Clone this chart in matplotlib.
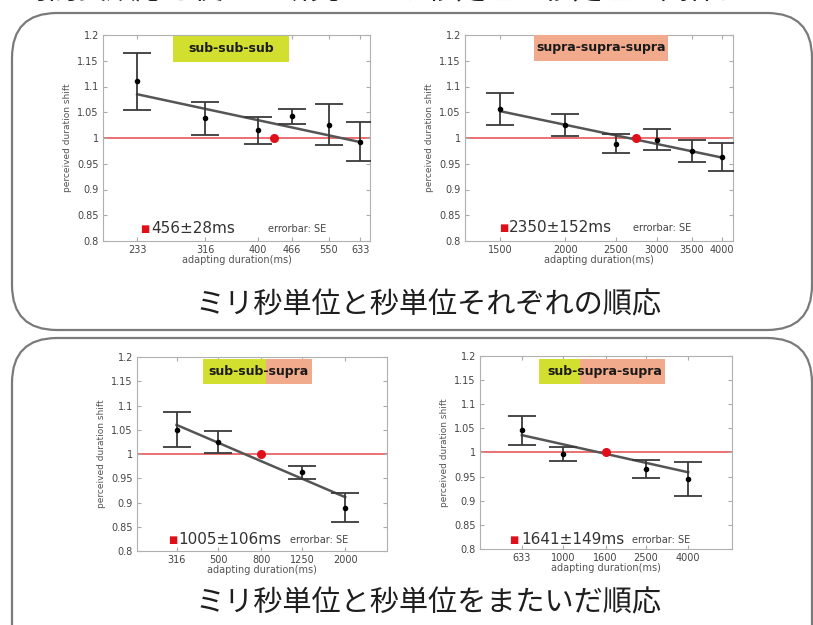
import numpy as np
import matplotlib.pyplot as plt
from matplotlib.patches import FancyBboxPatch, Rectangle

plt.rcParams['font.family'] = ['DejaVu Sans', 'Noto Sans CJK JP']

# ---- data ----
# sub-sub-sub
ss_x = [233, 316, 400, 466, 550, 633]
ss_y = [1.110, 1.038, 1.015, 1.042, 1.026, 0.993]
ss_se = [0.056, 0.032, 0.026, 0.015, 0.040, 0.038]
ss_fit_x = [233, 633]
ss_fit_y = [1.085, 0.992]
ss_pse = 430

# supra-supra-supra
pp_x = [1500, 2000, 2500, 3000, 3500, 4000]
pp_y = [1.056, 1.025, 0.989, 0.997, 0.975, 0.963]
pp_se = [0.031, 0.022, 0.018, 0.020, 0.021, 0.027]
pp_fit_x = [1500, 4000]
pp_fit_y = [1.052, 0.962]
pp_pse = 2730

# sub-sub-supra
sp_x = [316, 500, 1250, 2000]
sp_y = [1.050, 1.025, 0.962, 0.889]
sp_se = [0.036, 0.023, 0.014, 0.030]
sp_fit_x = [316, 2000]
sp_fit_y = [1.060, 0.911]
sp_ticks = [316, 500, 800, 1250, 2000]
sp_pse = 800

# sub-supra-supra
su_x = [633, 1000, 2500, 4000]
su_y = [1.046, 0.997, 0.966, 0.945]
su_se = [0.030, 0.014, 0.019, 0.035]
su_fit_x = [633, 4000]
su_fit_y = [1.036, 0.959]
su_ticks = [633, 1000, 1600, 2500, 4000]
su_pse = 1600

yticks = [0.8, 0.85, 0.9, 0.95, 1, 1.05, 1.1, 1.15, 1.2]
ytick_labels = ['0.8', '0.85', '0.9', '0.95', '1', '1.05', '1.1', '1.15', '1.2']

YEL = '#d3df2e'
SAL = '#f2aa8c'

W, H = 813, 625
fig = plt.figure(figsize=(W / 100, H / 100), dpi=100)


def panel(px, xs, ys, se, fx, fy, ticks, pse, xlim, pse_txt, legend_px):
    l, t, r, b = px
    ax = fig.add_axes([l / W, 1 - b / H, (r - l) / W, (b - t) / H])
    ax.set_xscale('log')
    ax.axhline(1.0, color='#e8575a', lw=1.2, zorder=1)
    ax.plot(fx, fy, color='#555555', lw=1.8, zorder=2)
    ax.errorbar(xs, ys, yerr=se, fmt='o', color='#3a3a3a', ms=3,
                mfc='black', mec='black', elinewidth=1.3, capsize=10,
                capthick=1.3, zorder=3)
    ax.plot([pse], [1.0], 'o', color='#e0101a', ms=5.5, zorder=4)
    ax.set_xlim(*xlim)
    ax.set_ylim(0.8, 1.2)
    ax.set_xticks(ticks)
    ax.set_xticklabels([str(v) for v in ticks])
    ax.xaxis.set_minor_locator(plt.NullLocator())
    ax.set_yticks(yticks)
    ax.set_yticklabels(ytick_labels)
    ax.tick_params(direction='in', top=True, right=True, length=3,
                   color='#aaaaaa', labelsize=7, labelcolor='#444444', pad=3)
    for s in ax.spines.values():
        s.set_color('#b0b0b0')
        s.set_linewidth(0.8)
    ax.set_xlabel('adapting duration(ms)', fontsize=7, color='#555555',
                  labelpad=0)
    ax.set_ylabel('perceived duration shift', fontsize=6.5, color='#555555',
                  labelpad=4)
    sx, tx, ex, ly = legend_px
    fx_ = lambda p: (p - l) / (r - l)
    fy_ = (b - ly) / (b - t)
    ax.text(fx_(sx), fy_, '\u25a0', color='#e0101a', fontsize=7,
            transform=ax.transAxes, ha='center', va='center')
    ax.text(fx_(tx), fy_, pse_txt, color='#333333', fontsize=11,
            transform=ax.transAxes, ha='left', va='center')
    ax.text(fx_(ex), fy_, 'errorbar: SE', color='#444444', fontsize=7,
            transform=ax.transAxes, ha='left', va='center')
    return ax


panel((103, 35, 370, 241), ss_x, ss_y, ss_se, ss_fit_x, ss_fit_y, ss_x,
      ss_pse, (200, 661), '456\u00b128ms', (145, 151, 268, 229))
panel((465, 35, 733, 241), pp_x, pp_y, pp_se, pp_fit_x, pp_fit_y, pp_x,
      pp_pse, (1283, 4200), '2350\u00b1152ms', (504, 509, 633, 228))
panel((137, 357, 387, 551), sp_x, sp_y, sp_se, sp_fit_x, sp_fit_y, sp_ticks,
      sp_pse, (205, 3160), '1005\u00b1106ms', (173, 178, 290, 540))
panel((480, 356, 732, 549), su_x, su_y, su_se, su_fit_x, su_fit_y, su_ticks,
      su_pse, (398, 6500), '1641\u00b1149ms', (514, 521, 632, 540))

# overlay in pixel coordinates for frames, tags and captions
ov = fig.add_axes([0, 0, 1, 1], zorder=10)
ov.set_xlim(0, W)
ov.set_ylim(H, 0)
ov.axis('off')
ov.patch.set_alpha(0)

for (x0, y0, w, h) in [(12, 13, 800, 317), (12, 338, 800, 360)]:
    ov.add_patch(FancyBboxPatch((x0, y0), w, h,
                                boxstyle='round,pad=0,rounding_size=45',
                                fc='none', ec='#7a7a7a', lw=1.6))

# condition tags: (segments, text, text centre x, top, bottom)
tags = [
    ([(173, 289, YEL)], 'sub-sub-sub', 231, 36, 62),
    ([(534, 668, SAL)], 'supra-supra-supra', 601, 35, 61),
    ([(203, 266, YEL), (266, 312, SAL)], 'sub-sub-supra', 258, 359, 384),
    ([(539, 580, YEL), (580, 665, SAL)], 'sub-supra-supra', 605, 359, 384),
]
for segs, txt, cx, y0, y1 in tags:
    for a, bb, c in segs:
        ov.add_patch(Rectangle((a, y0), bb - a, y1 - y0, fc=c, ec='none'))
    ov.text(cx, (y0 + y1) / 2, txt, ha='center', va='center',
            fontsize=9, fontweight='bold', color='#1a1a1a')

jp = ['Noto Sans CJK JP', 'DejaVu Sans']
ov.text(428, 305, 'ミリ秒単位と秒単位それぞれの順応', ha='center', va='center',
        fontsize=21, color='#1e1e1e', family=jp)
ov.text(428, 603, 'ミリ秒単位と秒単位をまたいだ順応', ha='center', va='center',
        fontsize=21, color='#1e1e1e', family=jp)
# title line of the slide, cut off by the top edge as in the source
ov.text(20, -9, '時間長順応を使った研究：ミリ秒処理と秒処理の関係について',
        ha='left', va='center', fontsize=21, color='#1e1e1e', family=jp)

fig.savefig('out.png', dpi=100)
